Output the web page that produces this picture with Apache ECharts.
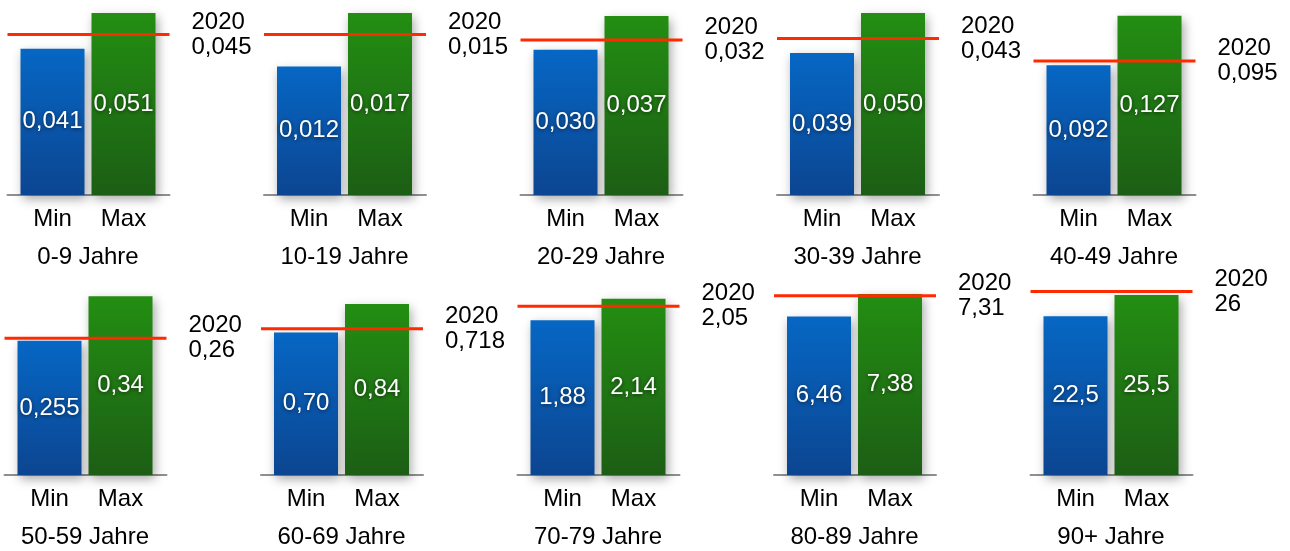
<!DOCTYPE html>
<html>
<head>
<meta charset="utf-8">
<script src="https://cdn.jsdelivr.net/npm/echarts@6/dist/echarts.min.js"></script>
<style>
html,body{margin:0;padding:0;background:#fff;}
#chart{width:1290px;height:551px;}
</style>
</head>
<body>
<div id="chart"></div>
<script>
// ---- data ----
const groups = ['0-9 Jahre', '10-19 Jahre', '20-29 Jahre', '30-39 Jahre', '40-49 Jahre',
                '50-59 Jahre', '60-69 Jahre', '70-79 Jahre', '80-89 Jahre', '90+ Jahre'];
const barCategories = ['Min', 'Max'];
const minValues = [0.041, 0.012, 0.030, 0.039, 0.092, 0.255, 0.70, 1.88, 6.46, 22.5];
const maxValues = [0.051, 0.017, 0.037, 0.050, 0.127, 0.34, 0.84, 2.14, 7.38, 25.5];
const refYear = '2020';
const refValues = [0.045, 0.015, 0.032, 0.043, 0.095, 0.26, 0.718, 2.05, 7.31, 26];
const minDecimals = [3, 3, 3, 3, 3, 0, 2, 2, 2, 0];
// per-panel scale maximum (each small chart has its own scale)
const axisMax = [0.051, 0.017, 0.0376, 0.050, 0.129, 0.346, 0.894, 2.21, 7.42, 25.8];

function fmt(v, minDec) {
  let s = v.toFixed(3);
  let [a, b] = s.split('.');
  while (b.length > minDec && b.endsWith('0')) b = b.slice(0, -1);
  return b.length ? a + ',' + b : a;
}

const FONT = '"Liberation Sans", Arial, Helvetica, sans-serif';
const FS = 24;
const blue = new echarts.graphic.LinearGradient(0, 0, 0, 1, [
  {offset: 0, color: '#0667C4'}, {offset: 1, color: '#0C4591'}]);
const green = new echarts.graphic.LinearGradient(0, 0, 0, 1, [
  {offset: 0, color: '#238E12'}, {offset: 1, color: '#1C5E15'}]);

const grid = [], xAxis = [], yAxis = [], series = [];
const plotH = 182;
groups.forEach((g, i) => {
  const row = Math.floor(i / 5), col = i % 5;
  const barStart = (row ? 17.5 : 20.5) + 256.5 * col;
  const bottom = row ? 475 : 195;
  const top = bottom - plotH;
  // inner grid for the bars
  grid.push({left: barStart - 3.5, width: 142, top: top, height: plotH});
  // outer grid for axis line and 2020 line
  grid.push({left: barStart - 13, width: 162, top: top, height: plotH});
  const gi = 2 * i, go = 2 * i + 1;
  xAxis.push({
    type: 'category', gridIndex: gi, data: barCategories,
    axisLine: {show: false}, axisTick: {show: false},
    axisLabel: {fontSize: FS, color: '#000', fontFamily: FONT, margin: 12},
    name: g, nameLocation: 'middle', nameGap: 50,
    nameTextStyle: {fontSize: FS, color: '#000', fontFamily: FONT}
  });
  yAxis.push({type: 'value', gridIndex: gi, min: 0, max: axisMax[i], show: false});
  xAxis.push({
    type: 'category', gridIndex: go, data: ['', ''], boundaryGap: false,
    axisLine: {show: true, lineStyle: {color: '#8f8f8f', width: 2}},
    axisTick: {show: false}, axisLabel: {show: false}
  });
  yAxis.push({type: 'value', gridIndex: go, min: 0, max: axisMax[i], show: false});

  series.push({
    type: 'bar', xAxisIndex: gi, yAxisIndex: gi, barWidth: 64, clip: false,
    data: [
      {value: minValues[i], itemStyle: {color: blue}},
      {value: maxValues[i], itemStyle: {color: green}}
    ],
    itemStyle: {shadowBlur: 10, shadowColor: 'rgba(0,0,0,0.35)', shadowOffsetX: 2, shadowOffsetY: 4},
    label: {
      show: true, position: 'inside', color: '#fff', fontSize: FS, fontFamily: FONT,
      textShadowColor: 'rgba(0,0,0,0.6)', textShadowBlur: 4, textShadowOffsetY: 1,
      formatter: p => fmt(p.value, minDecimals[i])
    },
    z: 2
  });
  series.push({
    type: 'line', xAxisIndex: go, yAxisIndex: go, clip: false,
    data: [refValues[i], refValues[i]],
    symbol: 'none', silent: true,
    lineStyle: {color: '#FF2A00', width: 3},
    endLabel: {
      show: true, distance: 22, fontSize: FS, lineHeight: 25, color: '#000', fontFamily: FONT,
      align: 'left',
      formatter: () => refYear + '\n' + fmt(refValues[i], minDecimals[i])
    },
    z: 5
  });
});

const chart = echarts.init(document.getElementById('chart'), null, {renderer: 'canvas'});
chart.setOption({
  animation: false,
  backgroundColor: '#fff',
  textStyle: {fontFamily: FONT},
  grid, xAxis, yAxis, series
});
</script>
</body>
</html>
